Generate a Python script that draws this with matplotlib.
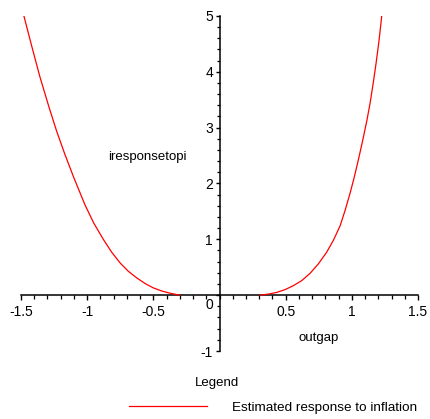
import matplotlib

matplotlib.use("Agg")
import matplotlib.pyplot as plt
import matplotlib.transforms as mtransforms
from matplotlib.lines import Line2D
from matplotlib.ticker import MultipleLocator

plt.rcParams["font.family"] = ["Liberation Sans", "DejaVu Sans"]

# Estimated response: two branches, gap around zero.
left_x = [-1.478, -1.42, -1.357, -1.29, -1.231, -1.168, -1.10, -1.017, -0.95,
          -0.878, -0.815, -0.752, -0.69, -0.626, -0.563, -0.50, -0.437, -0.374, -0.30]
left_y = [5.00, 4.47, 3.91, 3.38, 2.94, 2.52, 2.10, 1.62, 1.29,
          1.00, 0.77, 0.58, 0.43, 0.31, 0.21, 0.13, 0.075, 0.035, 0.0]
right_x = [0.306, 0.37, 0.433, 0.496, 0.558, 0.621, 0.684, 0.747, 0.81, 0.86, 0.911,
           0.948, 0.986, 1.018, 1.049, 1.081, 1.113, 1.138, 1.163, 1.183, 1.205, 1.226]
right_y = [0.0, 0.02, 0.05, 0.10, 0.17, 0.26, 0.39, 0.56, 0.77, 0.98, 1.24,
           1.51, 1.82, 2.11, 2.42, 2.76, 3.12, 3.44, 3.82, 4.15, 4.55, 5.0]

x_ticks = [-1.5, -1, -0.5, 0.5, 1, 1.5]
x_tick_labels = ["-1.5", "-1", "-0.5", "0.5", "1", "1.5"]
y_ticks = [-1, 0, 1, 2, 3, 4, 5]
y_tick_labels = ["-1", "0", "1", "2", "3", "4", "5"]

fig = plt.figure(figsize=(4.3, 4.19), dpi=100)
ax = fig.add_axes([21 / 430, 68 / 419, 397 / 430, 335 / 419])

ax.plot(left_x, left_y, color="red", linewidth=0.9, zorder=3)
ax.plot(right_x, right_y, color="red", linewidth=0.9, zorder=3)

ax.set_xlim(-1.5, 1.5)
ax.set_ylim(-1, 5)

for side in ("top", "right"):
    ax.spines[side].set_visible(False)
ax.spines["left"].set_position(("data", 0))
ax.spines["bottom"].set_position(("data", 0))
for side in ("left", "bottom"):
    ax.spines[side].set_linewidth(1.1)
    ax.spines[side].set_color("black")

ax.set_xticks(x_ticks, x_tick_labels)
ax.set_yticks(y_ticks, y_tick_labels)
ax.xaxis.set_minor_locator(MultipleLocator(0.1))
ax.yaxis.set_minor_locator(MultipleLocator(0.2))
ax.tick_params(axis="x", which="major", direction="out", length=3.8, width=1.0,
               pad=3, labelsize=10)
ax.tick_params(axis="x", which="minor", direction="out", length=2.8, width=0.9)
ax.tick_params(axis="y", which="major", direction="out", length=3.2, width=1.0,
               pad=1.5, labelsize=10)
ax.tick_params(axis="y", which="minor", direction="out", length=2.5, width=0.9)

# Maple drops the y "0" below the axis line
zero_label = ax.get_yticklabels()[1]
zero_label.set_transform(zero_label.get_transform()
                         + mtransforms.ScaledTranslation(0, -8 / 100, fig.dpi_scale_trans))

ax.text(-0.544, 2.47, "iresponsetopi", ha="center", va="center", fontsize=9.5)
ax.text(0.747, -0.76, "outgap", ha="center", va="center", fontsize=9.5)

# legend drawn below the plot, Maple style
fig.text(216.7 / 430, 1 - 382.7 / 419, "Legend", ha="center", va="center", fontsize=9.5)
fig.add_artist(Line2D([129.3 / 430, 206.7 / 430], [1 - 405.7 / 419, 1 - 405.7 / 419],
                      color="red", linewidth=0.9, transform=fig.transFigure))
fig.text(231.7 / 430, 1 - 408 / 419, "Estimated response to inflation",
         ha="left", va="center", fontsize=9.7)

fig.savefig("out.png", dpi=100)
plt.close(fig)
